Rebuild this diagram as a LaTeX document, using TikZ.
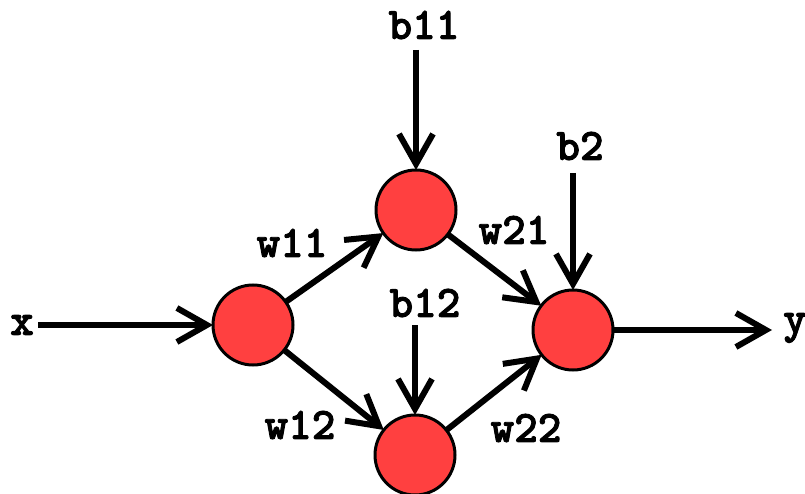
\documentclass[tikz,border=0pt]{standalone}
\usepackage{fontspec}
\newfontfamily\labelfont{lmmonolt10-bold.otf}[FakeBold=2]
\usetikzlibrary{arrows.meta}
\definecolor{nodered}{RGB}{255,64,64}
\tikzset{
  neuron/.style={circle, draw=black, line width=3pt, fill=nodered, minimum size=80pt, inner sep=0pt, outer sep=0pt},
  lbl/.style={font=\fontsize{45}{54}\selectfont\labelfont, inner sep=0pt},
  conn/.style={line width=6pt, -{Straight Barb[length=30pt,width=34pt,line width=6pt]}}
}
\begin{document}
\begin{tikzpicture}[x=1pt,y=-1pt]
\useasboundingbox (0,0) rectangle (805,494);
\node[neuron] (in) at (253,325) {};
\node[neuron] (h1) at (416,210) {};
\node[neuron] (h2) at (415,455) {};
\node[neuron] (out) at (573,330) {};
\node[lbl] (x) at (22,325) {x};
\node[lbl, anchor=west] (y) at (783,328) {y};
\node[lbl] (b11) at (424,25) {b11};
\node[lbl] (b2) at (580,146) {b2};
\node[lbl] (b12) at (425,303) {b12};
\node[lbl] (w11) at (292,243) {w11};
\node[lbl] (w21) at (514,230) {w21};
\node[lbl] (w12) at (300,425) {w12};
\node[lbl] (w22) at (526,428) {w22};
\coordinate (xs) at (38,325);
\coordinate (ye) at (772,330);
\coordinate (b11s) at (416,50);
\coordinate (b2s) at (573,173);
\coordinate (b12s) at (415,325);
\draw[conn] (xs) -- (in);
\draw[conn] (b11s) -- (h1);
\draw[conn] (b2s) -- (out);
\draw[conn] (b12s) -- (h2);
\draw[conn] (in) -- (h1);
\draw[conn] (in) -- (h2);
\draw[conn] (h1) -- (out);
\draw[conn] (h2) -- (out);
\draw[conn] (out) -- (ye);
\end{tikzpicture}
\end{document}
